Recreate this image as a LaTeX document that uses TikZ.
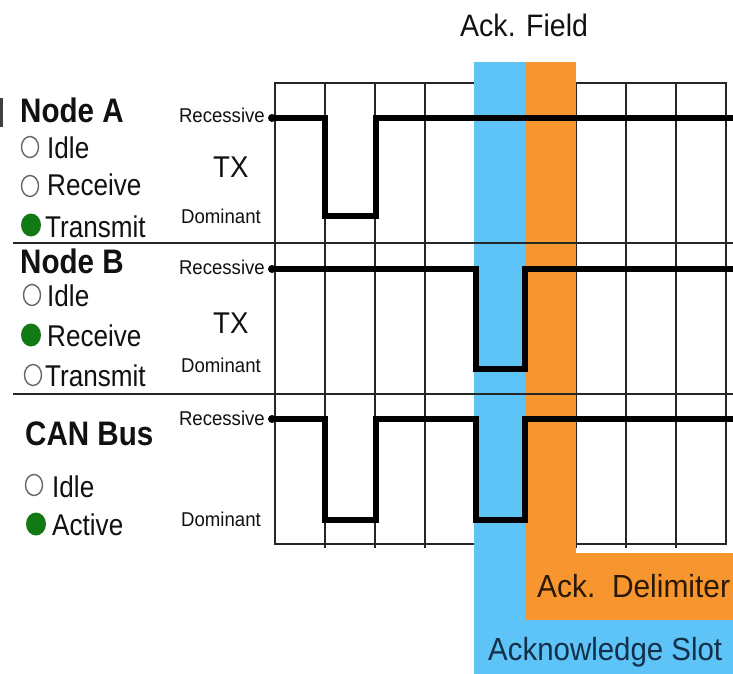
\documentclass[tikz,border=0pt]{standalone}
\usepackage{fontspec}
\setmainfont{Liberation Sans}
\newfontfamily\condA[FakeStretch=0.87]{Liberation Sans}
\newfontfamily\condB[FakeStretch=0.93]{Liberation Sans}
\newfontfamily\condC[FakeStretch=0.92]{Liberation Sans}
\newfontfamily\condD[FakeStretch=0.935]{Liberation Sans}
\definecolor{ackblue}{HTML}{5EC3F7}
\definecolor{ackorange}{HTML}{F7962E}
\definecolor{okgreen}{HTML}{127A14}
\definecolor{txtdark}{HTML}{111111}
\definecolor{slotnavy}{HTML}{13304A}
\definecolor{delimdark}{HTML}{2A1808}
\tikzset{
  head/.style={inner sep=0pt, anchor=base west, text=txtdark, font=\condA\bfseries\fontsize{34}{36}\selectfont},
  state/.style={inner sep=0pt, anchor=base west, text=txtdark, font=\condA\fontsize{30}{32}\selectfont},
  level/.style={inner sep=0pt, anchor=base east, text=txtdark, font=\condB\fontsize{20}{22}\selectfont},
  txlabel/.style={inner sep=0pt, anchor=base west, text=txtdark, font=\condC\fontsize{30}{32}\selectfont},
  fieldlabel/.style={inner sep=0pt, anchor=base west, font=\condC\fontsize{31}{33}\selectfont},
  gridline/.style={draw=black!85, line width=2pt},
  sepline/.style={draw=black!85, line width=2pt},
  signal/.style={draw=black, line width=6.5pt, line join=miter},
  offdot/.style={draw=black!60, line width=1.4pt},
  ondot/.style={fill=okgreen}
}
\begin{document}
\begin{tikzpicture}[x=1pt,y=-1pt]
\useasboundingbox (0,0) rectangle (733,674);
\fill[white] (0,0) rectangle (733,674);

% grid
\draw[gridline] (275,83) rectangle (726,544);
\foreach \i in {1,...,8} {
  \draw[gridline] ({275+\i*50.11},83) -- ({275+\i*50.11},548);
}

% coloured fields
\fill[ackblue] (474,62) rectangle (525,674);
\fill[ackblue] (474,620) rectangle (733,674);
\fill[ackorange] (525,62) rectangle (576,620);
\fill[ackorange] (525,553) rectangle (733,620);

% separators
\draw[sepline] (13,243) -- (733,243);
\draw[sepline] (13,394) -- (733,394);

% cut-off glyph at the left edge
\draw[black!75, line width=3.5pt] (1.5,98) -- (1.5,127);

% signals
\draw[signal] (272,118) -- (325,118) -- (325,216) -- (376,216) -- (376,118) -- (734,118);
\fill (272,118) circle (4);
\draw[signal] (272,269) -- (476,269) -- (476,369) -- (525,369) -- (525,269) -- (734,269);
\fill (272,269) circle (4);
\draw[signal] (272,419) -- (325,419) -- (325,520) -- (376,520) -- (376,419) -- (476,419) -- (476,520) -- (525,520) -- (525,419) -- (734,419);
\fill (272,419) circle (4);

% level labels
\node[level] (recA) at (265,123) {Recessive};
\node[level] (domA) at (261,223) {Dominant};
\node[level] (recB) at (265,274) {Recessive};
\node[level] (domB) at (261,372) {Dominant};
\node[level] (recC) at (265,425) {Recessive};
\node[level] (domC) at (261,526) {Dominant};
\node[txlabel] (txA) at (213,177) {TX};
\node[txlabel] (txB) at (213,333) {TX};

% Node A
\node[head] (nodeA) at (20,122) {Node A};
\draw[offdot] (30,147) ellipse[x radius=8.5, y radius=10.5];
\node[state] (idleA) at (47,158) {Idle};
\draw[offdot] (30,186) ellipse[x radius=8.5, y radius=10.5];
\node[state] (recvA) at (47,195) {Receive};
\fill[ondot] (31,225) ellipse[x radius=10, y radius=11.5];
\node[state] (transA) at (45,237) {Transmit};

% Node B
\node[head] (nodeB) at (20,273) {Node B};
\draw[offdot] (32,295) ellipse[x radius=8.5, y radius=10.5];
\node[state] (idleB) at (47,306) {Idle};
\fill[ondot] (31,335) ellipse[x radius=10, y radius=11.5];
\node[state] (recvB) at (47,346) {Receive};
\draw[offdot] (33,375) ellipse[x radius=8.5, y radius=10.5];
\node[state] (transB) at (45,386) {Transmit};

% CAN bus
\node[head] (canbus) at (25,445) {CAN Bus};
\draw[offdot] (34,485) ellipse[x radius=8.5, y radius=10.5];
\node[state] (idleC) at (52,497) {Idle};
\fill[ondot] (36,524) ellipse[x radius=10, y radius=11.5];
\node[state] (activeC) at (52,535) {Active};

% field labels
\node[fieldlabel, text=txtdark] (ackfield) at (460,37) {Ack. Field};
\node[fieldlabel, text=delimdark, font=\condD\fontsize{32}{34}\selectfont] (ackdelim) at (537,597) {Ack.~~Delimiter};
\node[fieldlabel, text=slotnavy, font=\condC\fontsize{32}{34}\selectfont] (ackslot) at (488,660) {Acknowledge Slot};
\end{tikzpicture}
\end{document}
